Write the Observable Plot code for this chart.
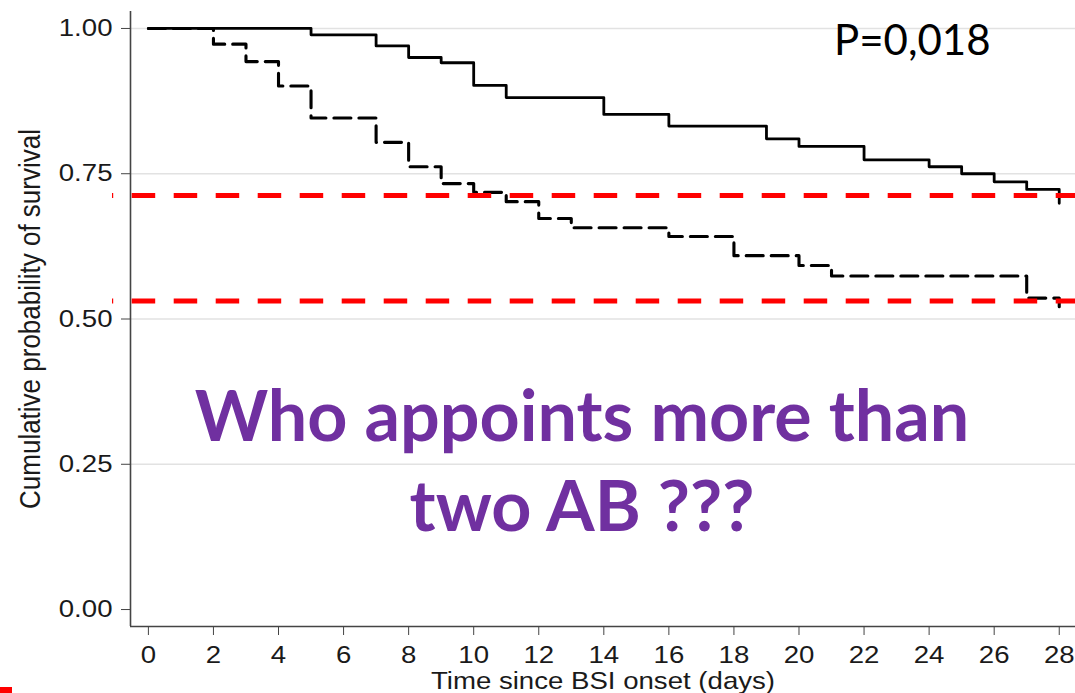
<!DOCTYPE html>
<html>
<head>
<meta charset="utf-8">
<script src="https://cdn.jsdelivr.net/npm/d3@7"></script>
<script src="https://cdn.jsdelivr.net/npm/@observablehq/plot@0.6"></script>
<style>
  html, body { margin: 0; padding: 0; background: #fff; }
  #chart { position: relative; width: 1075px; height: 693px; overflow: hidden; }
  #chart svg { display: block; }
  .corner { position: absolute; left: 0; bottom: 0; width: 12px; height: 6px; background: #f00; }
</style>
</head>
<body>
<div id="chart"><div class="corner"></div></div>
<script>
// Kaplan–Meier survival steps (day of event, survival after the event)
const groupOneDays     = [0, 5, 7, 8, 9, 10, 11, 14, 16, 19, 20, 22, 24, 25, 26, 27, 28];
const groupOneSurvival = [1.00, 0.989, 0.970, 0.950, 0.941, 0.902, 0.881, 0.852, 0.832, 0.810, 0.797, 0.774, 0.762, 0.750, 0.736, 0.723, 0.699];

const groupTwoDays     = [0, 2, 3, 4, 5, 7, 8, 9, 10, 11, 12, 13, 16, 18, 20, 21, 27, 28];
const groupTwoSurvival = [1.00, 0.973, 0.943, 0.901, 0.846, 0.804, 0.762, 0.733, 0.718, 0.702, 0.673, 0.657, 0.642, 0.609, 0.592, 0.574, 0.536, 0.521];

// Horizontal reference levels (28-day survival of each group)
const referenceLevels = [0.7125, 0.531];

// Axis ticks and texts
const xTicks = [0, 2, 4, 6, 8, 10, 12, 14, 16, 18, 20, 22, 24, 26, 28];
const yTicks = [0, 0.25, 0.5, 0.75, 1];
const xTitle = "Time since BSI onset (days)";
const yTitle = "Cumulative probability of survival";
const pValueLabel = "P=0,018";
const questionLines = ["Who appoints more than", "two AB ???"];

const toRows = (days, surv) => days.map((day, i) => ({day, survival: surv[i]}));
const groupOne = toRows(groupOneDays, groupOneSurvival);
const groupTwo = toRows(groupTwoDays, groupTwoSurvival);

const xDomain = [-0.55, 28.5];
const yDomain = [-0.0292, 1.0292];

const axisFont = '"Liberation Sans", Arial, Helvetica, sans-serif';
const slideFont = 'Lato, "Open Sans", sans-serif';
const purple = "#7030a0";

const chart = Plot.plot({
  width: 1075,
  height: 693,
  marginLeft: 130,
  marginRight: 0,
  marginTop: 11,
  marginBottom: 67,
  x: {domain: xDomain},
  y: {domain: yDomain},
  style: {fontFamily: axisFont, fontSize: "24px", color: "#1a1a1a", background: "#fff", overflow: "visible"},
  marks: [
    Plot.gridY(yTicks.filter((t) => t > 0), {stroke: "#e2e2e2", strokeOpacity: 1, strokeWidth: 1.5}),
    Plot.ruleX([xDomain[0]], {stroke: "#444", strokeWidth: 1.6}),
    Plot.ruleY([yDomain[0]], {stroke: "#444", strokeWidth: 1.6}),
    Plot.axisX({ticks: xTicks, tickSize: 9, tickPadding: 10, tickFormat: (d) => String(d), fontSize: 24, label: null, stroke: "#444"}),
    Plot.axisY({ticks: yTicks, tickSize: 9, tickPadding: 9, tickFormat: d3.format(".2f"), fontSize: 24, label: null, stroke: "#444"}),
    Plot.line(groupOne, {x: "day", y: "survival", curve: "step-after", stroke: "#000", strokeWidth: 2.8}),
    Plot.line(groupTwo, {x: "day", y: "survival", curve: "step-after", stroke: "#000", strokeWidth: 3.1, strokeDasharray: "17 8"}),
    Plot.ruleY(referenceLevels, {stroke: "#ff0000", strokeWidth: 5, strokeDasharray: "23.5 18.5", strokeDashoffset: 22.3, insetLeft: -18}),
    Plot.text([xTitle], {text: (d) => d, frameAnchor: "bottom", lineAnchor: "bottom", dy: 62, fontSize: 24}),
    Plot.text([yTitle], {text: (d) => d, frameAnchor: "left", textAnchor: "middle", lineAnchor: "bottom", rotate: -90, dx: -91, fontSize: 26}),
    Plot.text([pValueLabel], {text: (d) => d, frameAnchor: "top-right", textAnchor: "end", lineAnchor: "bottom", dx: -85, dy: 43, fontFamily: slideFont, fontSize: 42, fill: "#000"}),
    Plot.text([questionLines[0]], {text: (d) => d, frameAnchor: "top", lineAnchor: "bottom", dx: -21, dy: 429, fontFamily: slideFont, fontWeight: "bold", fontSize: 70, fill: purple}),
    Plot.text([questionLines[1]], {text: (d) => d, frameAnchor: "top", lineAnchor: "bottom", dx: -21, dy: 519, fontFamily: slideFont, fontWeight: "bold", fontSize: 70, fill: purple})
  ]
});

// The axis lettering is set slightly wide: stretch it horizontally about each label's anchor.
function widen(nodes, sx, sy) {
  nodes.forEach((t) => {
    const tr = t.getAttribute("transform") || "";
    t.setAttribute("transform", `${tr} scale(${sx},${sy})`.trim());
  });
}
const allText = Array.from(chart.querySelectorAll("text"));
widen(chart.querySelectorAll('g[aria-label="x-axis tick label"] text'), 1.15, 1);
widen(chart.querySelectorAll('g[aria-label="y-axis tick label"] text'), 1.15, 1);
widen(allText.filter((t) => t.textContent === xTitle), 1.15, 1);
// rotated title: its screen-horizontal direction is the local y direction
widen(allText.filter((t) => t.textContent === yTitle), 1, 1.12);

document.getElementById("chart").prepend(chart);
</script>
</body>
</html>
